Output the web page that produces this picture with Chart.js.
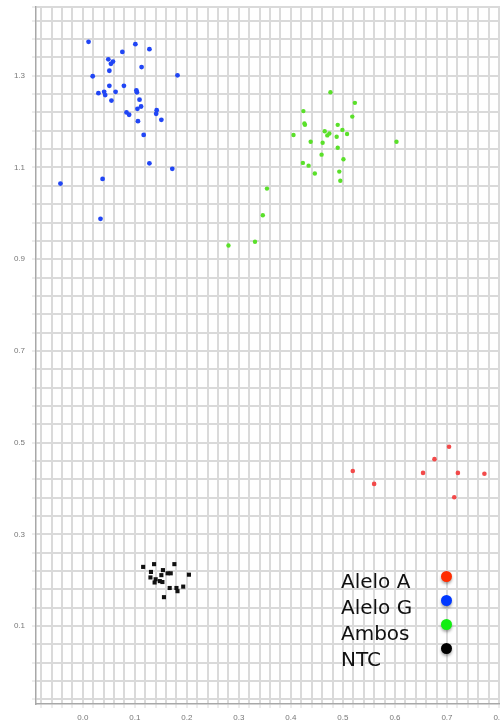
<!DOCTYPE html>
<html>
<head>
<meta charset="utf-8">
<script src="https://cdn.jsdelivr.net/npm/chart.js@4.4.1/dist/chart.umd.min.js"></script>
<style>
html,body{margin:0;padding:0;background:#fff;overflow:hidden;width:500px;height:724px}
#wrap{position:relative;width:500px;height:724px;overflow:hidden}
#c{position:absolute;left:0;top:0}
#legend{position:absolute;left:341px;top:568px;font-family:"DejaVu Sans",sans-serif;font-size:20px;line-height:26px;color:#111;white-space:nowrap}
.dot{position:absolute;left:441px;width:11px;height:11px;border-radius:50%;box-shadow:0 2px 3px rgba(0,0,0,0.35)}
</style>
</head>
<body>
<div id="wrap">
<canvas id="c" width="560" height="724"></canvas>
<div id="legend"></div>
</div>
<script>
// ---- data (x = allele 1 signal, y = allele 2 signal) ----
const seriesNames = ['Alelo A', 'Alelo G', 'Ambos', 'NTC'];

const aleloA = [
  [0.704,0.491],[0.676,0.464],[0.519,0.438],[0.654,0.434],
  [0.721,0.434],[0.772,0.432],[0.560,0.410],[0.714,0.381]
];

const aleloG = [
  [0.011,1.374],[0.101,1.369],[0.128,1.358],[0.076,1.352],[0.049,1.336],
  [0.058,1.331],[0.054,1.326],[0.113,1.319],[0.019,1.299],[0.182,1.301],
  [0.051,1.311],[0.051,1.278],[0.079,1.278],[0.030,1.262],[0.041,1.265],
  [0.043,1.258],[0.063,1.265],[0.103,1.268],[0.104,1.264],[0.109,1.248],
  [0.055,1.246],[0.112,1.233],[0.105,1.228],[0.084,1.220],[0.089,1.215],
  [0.142,1.225],[0.141,1.217],[0.151,1.204],[0.106,1.201],[0.117,1.171],
  [0.128,1.109],[0.172,1.097],[0.038,1.075],[-0.043,1.065],[0.034,0.988]
];

const ambos = [
  [0.476,1.264],[0.523,1.241],[0.424,1.223],[0.518,1.211],[0.426,1.196],
  [0.427,1.193],[0.490,1.193],[0.499,1.182],[0.465,1.179],[0.474,1.174],
  [0.470,1.170],[0.508,1.173],[0.405,1.171],[0.488,1.167],[0.438,1.156],
  [0.461,1.154],[0.603,1.156],[0.490,1.143],[0.459,1.128],[0.501,1.118],
  [0.423,1.110],[0.434,1.104],[0.446,1.087],[0.493,1.091],[0.495,1.071],
  [0.354,1.054],[0.346,0.996],[0.331,0.938],[0.280,0.930]
];

const ntc = [
  [0.116,0.229],[0.137,0.235],[0.176,0.235],[0.131,0.218],[0.154,0.222],
  [0.163,0.215],[0.169,0.215],[0.204,0.212],[0.151,0.211],[0.130,0.206],
  [0.140,0.202],[0.148,0.198],[0.153,0.196],[0.138,0.195],[0.167,0.183],
  [0.180,0.183],[0.193,0.186],[0.182,0.176],[0.156,0.163]
];

// tick labels
const xTickLabels = ['0.0','0.1','0.2','0.3','0.4','0.5','0.6','0.7','0.8'];
const yTickLabels = ['0.1','0.3','0.5','0.7','0.9','1.1','1.3'];

// ---- grid positions ----
const xGrid = [];
for (let i = -4; i <= 45; i++) xGrid.push(+(i * 0.02).toFixed(2));
const yGrid = [];
for (let i = -4; i <= 33; i++) yGrid.push(+(0.1 + i * 0.04).toFixed(2));
yGrid.push(1.45);

const toPts = arr => arr.map(p => ({x: p[0], y: p[1]}));
const lbl = (labels) => (v) => {
  const f = labels.find(l => Math.abs(parseFloat(l) - v) < 1e-6);
  return f === undefined ? '' : f;
};

const gridColor = '#dadada';
const tickFont = {family: 'Liberation Sans', size: 8};

new Chart(document.getElementById('c'), {
  type: 'scatter',
  data: {
    datasets: [
      {label: seriesNames[0], data: toPts(aleloA), pointStyle: 'circle', pointRadius: 2.3, backgroundColor: '#f24a4a', borderColor: '#f24a4a', borderWidth: 0},
      {label: seriesNames[1], data: toPts(aleloG), pointStyle: 'circle', pointRadius: 2.4, backgroundColor: '#2146f5', borderColor: '#2146f5', borderWidth: 0},
      {label: seriesNames[2], data: toPts(ambos), pointStyle: 'circle', pointRadius: 2.2, backgroundColor: '#5ae02a', borderColor: '#5ae02a', borderWidth: 0},
      {label: seriesNames[3], data: toPts(ntc), pointStyle: 'rect', pointRadius: 2.9, backgroundColor: '#111', borderColor: '#111', borderWidth: 0}
    ]
  },
  options: {
    responsive: false,
    animation: false,
    devicePixelRatio: 1,
    layout: {padding: {top: 7, right: 9, left: 0, bottom: 0}},
    plugins: {legend: {display: false}, tooltip: {enabled: false}},
    scales: {
      x: {
        type: 'linear', min: -0.09, max: 0.9,
        afterBuildTicks: s => { s.ticks = xGrid.map(v => ({value: v})); },
        afterFit: s => { s.height = 20; s.paddingLeft = 0; s.paddingRight = 0; },
        grid: {color: gridColor, lineWidth: 2, tickLength: 4, tickColor: gridColor, tickWidth: 1},
        border: {display: true, color: '#a8a8a8', width: 1.5},
        ticks: {autoSkip: false, maxRotation: 0, padding: 5, color: '#777', font: tickFont, callback: lbl(xTickLabels)}
      },
      y: {
        type: 'linear', min: -0.07, max: 1.45,
        afterBuildTicks: s => { s.ticks = yGrid.map(v => ({value: v})); },
        afterFit: s => { s.width = 36; s.paddingTop = 0; s.paddingBottom = 0; },
        grid: {color: gridColor, lineWidth: 2, tickLength: 4, tickColor: gridColor, tickWidth: 1},
        border: {display: true, color: '#a8a8a8', width: 1.5},
        ticks: {autoSkip: false, padding: 7, color: '#777', font: tickFont, callback: lbl(yTickLabels)}
      }
    }
  }
});

// ---- legend (text left, coloured dot right) ----
const legendColors = ['#ff2d00', '#0038ff', '#12ee12', '#000000'];
const legendDotTops = [571, 595, 619, 643];
const leg = document.getElementById('legend');
leg.innerHTML = seriesNames.map(n => '<div>' + n + '</div>').join('');
const wrap = document.getElementById('wrap');
seriesNames.forEach((n, i) => {
  const d = document.createElement('div');
  d.className = 'dot';
  d.style.top = legendDotTops[i] + 'px';
  d.style.background = legendColors[i];
  wrap.appendChild(d);
});
</script>
</body>
</html>
